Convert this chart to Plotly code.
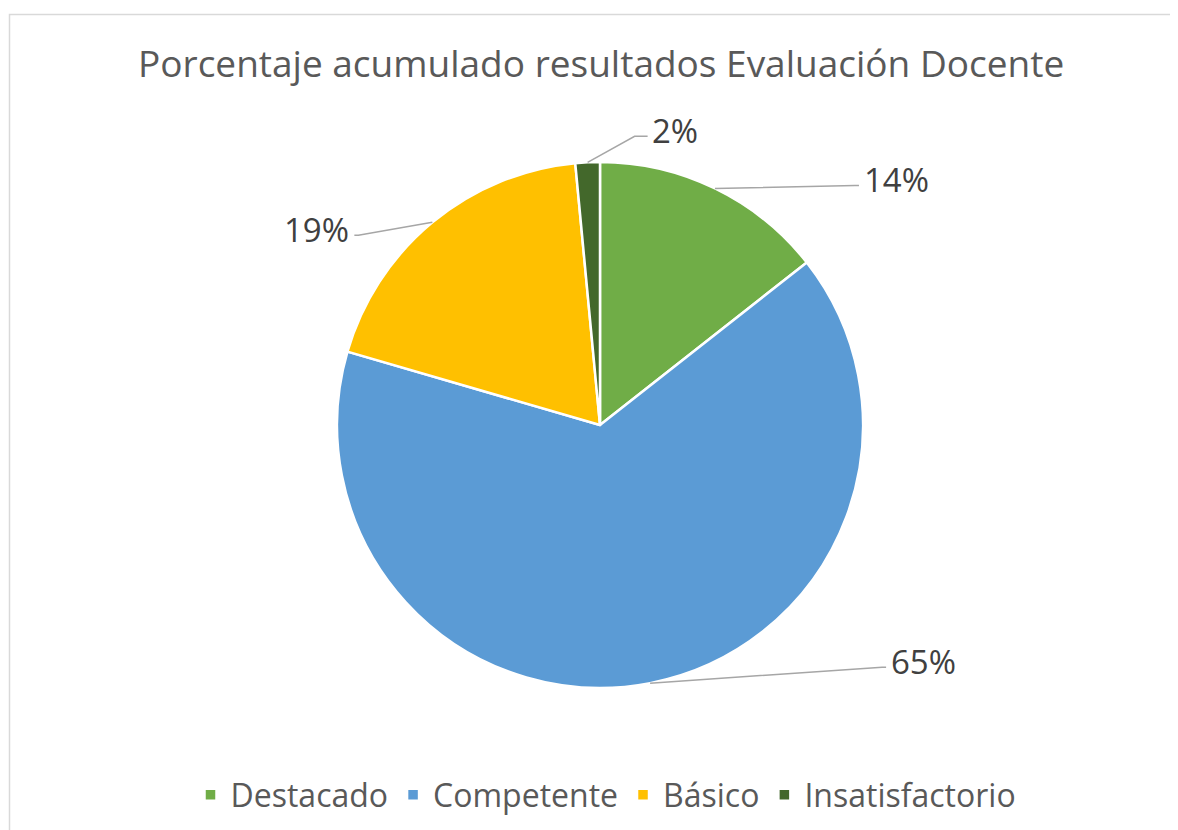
import math
import plotly.graph_objects as go

# ---- data ----
categories = ["Destacado", "Competente", "Básico", "Insatisfactorio"]
values = [14.4, 65.1, 19.0, 1.5]
colors = ["#70AD47", "#5B9BD5", "#FFC000", "#43682B"]
title_text = "Porcentaje acumulado resultados Evaluación Docente"

# ---- layout (page pixels; the page body has an 8px margin) ----
OFF = 8
W, H = 1170, 822
CX, CY, R = 600, 425, 263
label_cfg = [
    dict(elbow=(140, -3), text_dx=3, anchor="left"),
    dict(elbow=(232, -16), text_dx=3, anchor="left"),
    dict(elbow=(-74, 13), text_dx=-3, anchor="right"),
    dict(elbow=(47, -26), text_dx=2, anchor="left", extra=(13, 0)),
]

def px(x):
    return (x - OFF) / W

def py(y):
    return 1 - (y - OFF) / H

fig = go.Figure(go.Pie(
    labels=categories, values=values, sort=False, direction="clockwise",
    rotation=0, textinfo="none", hoverinfo="label+percent",
    marker=dict(colors=colors, line=dict(color="white", width=2.5)),
    domain=dict(x=[px(CX - R), px(CX + R)], y=[py(CY + R), py(CY - R)]),
))

total = sum(values)
cum = 0
shapes = []
annotations = []
for v, cfg in zip(values, label_cfg):
    mid = (cum + v / 2) / total * 2 * math.pi
    cum += v
    sx = CX + R * math.sin(mid)
    sy = CY - R * math.cos(mid)
    ex, ey = sx + cfg["elbow"][0], sy + cfg["elbow"][1]
    pts = [(sx, sy), (ex, ey)]
    if "extra" in cfg:
        ex, ey = ex + cfg["extra"][0], ey + cfg["extra"][1]
    else:
        ex = ex + (4 if cfg["anchor"] == "left" else -4)
    pts.append((ex, ey))
    path = "M " + " L ".join(f"{px(a):.5f},{py(b):.5f}" for a, b in pts)
    shapes.append(dict(type="path", xref="paper", yref="paper", path=path,
                       line=dict(color="#A6A6A6", width=1.5)))
    pct = round(v / total * 100)
    annotations.append(dict(
        x=px(ex + cfg["text_dx"]), y=py(ey - 6), xref="paper", yref="paper",
        text=f"{pct}%", showarrow=False, xanchor=cfg["anchor"], yanchor="middle",
        font=dict(family="Open Sans", size=33, color="#404040")))

# chart border
shapes.append(dict(type="rect", xref="paper", yref="paper",
                   x0=px(9.5), x1=px(1300), y0=py(900), y1=py(14.5),
                   line=dict(color="#D9D9D9", width=1.5), layer="below"))

annotations.append(dict(
    x=px(601), y=py(62), xref="paper", yref="paper", text=title_text,
    showarrow=False, xanchor="center", yanchor="middle",
    font=dict(family="Open Sans", size=37, color="#595959")))

fig.update_layout(
    width=W, height=H, margin=dict(l=0, r=0, t=0, b=0),
    paper_bgcolor="white", plot_bgcolor="white",
    shapes=shapes, annotations=annotations,
    showlegend=True,
    legend=dict(orientation="h", x=px(606), xanchor="center",
                y=py(795), yanchor="middle",
                font=dict(family="Open Sans", size=32, color="#595959"),
                itemclick=False, itemdoubleclick=False),
)

fig.write_html("out.html")
